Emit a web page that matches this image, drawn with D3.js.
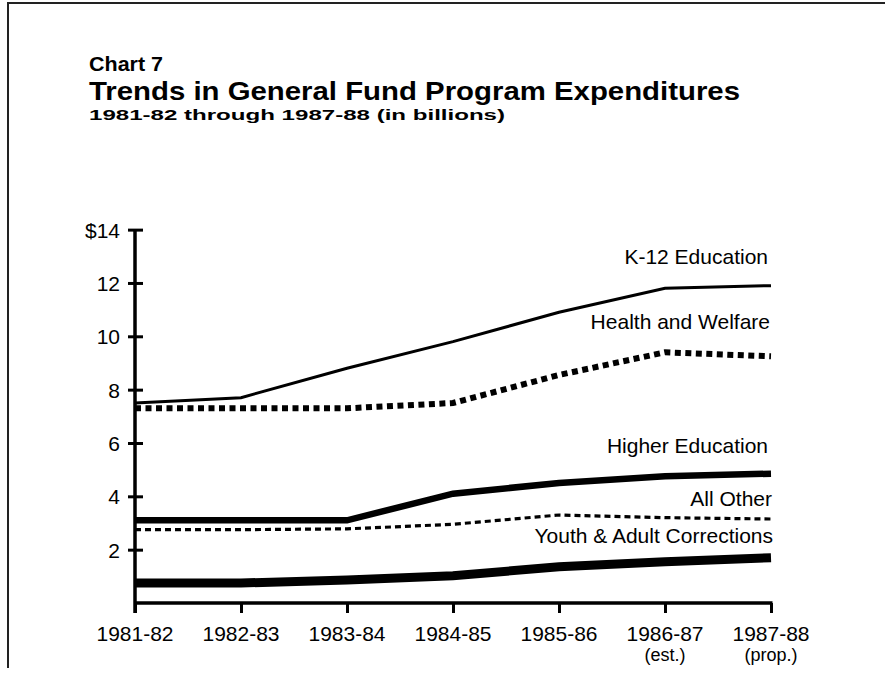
<!DOCTYPE html>
<meta charset="utf-8">
<style>
    body { margin: 0; background: white; }
    svg { background: white; }
    text { font-family: "Liberation Sans", Arial, Helvetica, sans-serif; fill: #000; }
    .series { fill: none; stroke: #000; }
    .axis path, .axis line { stroke: #000; }
</style>
<svg width="885" height="693"></svg>
<script src="https://d3js.org/d3.v7.min.js"></script>
<script>
    // values (billions)
    const years = ["1981-82", "1982-83", "1983-84", "1984-85", "1985-86", "1986-87", "1987-88"];
    const yearNotes = ["", "", "", "", "", "(est.)", "(prop.)"];
    const yTicks = [2, 4, 6, 8, 10, 12, 14];

    const k12 = [7.5, 7.7, 8.8, 9.8, 10.9, 11.8, 11.9];
    const healthWelfare = [7.3, 7.3, 7.3, 7.5, 8.55, 9.4, 9.25];
    const higherEd = [3.1, 3.1, 3.1, 4.1, 4.5, 4.75, 4.85];
    const allOther = [2.75, 2.75, 2.78, 2.95, 3.3, 3.2, 3.15];
    const corrections = [0.75, 0.75, 0.86, 1.02, 1.36, 1.55, 1.7];

    const seriesNames = ["K-12 Education", "Health and Welfare", "Higher Education", "All Other", "Youth & Adult Corrections"];
    const seriesValues = [k12, healthWelfare, higherEd, allOther, corrections];

    // line look for each series, same order as seriesNames
    const styles = [
        { width: 3, dash: null, labelDy: -22, labelDx: -3 },
        { width: 6, dash: "6,4.5", labelDy: -27, labelDx: -1 },
        { width: 6.5, dash: null, labelDy: -21, labelDx: -3 },
        { width: 3.2, dash: "6,4", labelDy: -13, labelDx: 1 },
        { width: 9, dash: null, labelDy: -15, labelDx: 2 }
    ];

    var svg = d3.select("svg");

    // scan frame
    svg.append("path")
        .attr("d", "M8,668V3H885")
        .attr("fill", "none")
        .attr("stroke", "#222")
        .attr("stroke-width", 2);

    // titles
    svg.append("text").attr("x", 89).attr("y", 71)
        .style("font-size", "21px").style("font-weight", "bold")
        .attr("textLength", 74).attr("lengthAdjust", "spacingAndGlyphs")
        .text("Chart 7");
    svg.append("text").attr("x", 89).attr("y", 100)
        .style("font-size", "26px").style("font-weight", "bold")
        .attr("textLength", 651).attr("lengthAdjust", "spacingAndGlyphs")
        .text("Trends in General Fund Program Expenditures");
    svg.append("text").attr("x", 89).attr("y", 119.5)
        .style("font-size", "15px").style("font-weight", "bold")
        .attr("textLength", 416).attr("lengthAdjust", "spacingAndGlyphs")
        .text("1981-82 through 1987-88 (in billions)");

    var x = d3.scalePoint().domain(years).range([135, 771]);
    var y = d3.scaleLinear().domain([0, 14]).range([603, 603 - 14 * 26.67]);

    // y axis
    var yAxis = svg.append("g").attr("class", "axis")
        .attr("transform", "translate(135,0)")
        .call(d3.axisLeft(y).tickValues(yTicks).tickSizeOuter(0).tickSizeInner(7).tickPadding(8)
            .tickFormat(function (d) { return d === 14 ? "$14" : d; }));
    yAxis.select(".domain").remove();
    yAxis.selectAll(".tick line").attr("x2", 8).attr("x1", -7).attr("stroke-width", 3);
    yAxis.selectAll(".tick text").style("font-size", "21px").style("font-family", "Liberation Sans, Arial, sans-serif")
        .attr("dy", "0.36em");
    svg.append("line")
        .attr("x1", 135).attr("x2", 135)
        .attr("y1", y(14)).attr("y2", 613)
        .attr("stroke", "#000").attr("stroke-width", 3.5);

    // x axis
    var xAxis = svg.append("g").attr("class", "axis")
        .attr("transform", "translate(0," + y(0) + ")")
        .call(d3.axisBottom(x).tickSizeOuter(0).tickSizeInner(10).tickPadding(12));
    xAxis.select(".domain").remove();
    xAxis.selectAll(".tick line").attr("stroke-width", 3);
    xAxis.selectAll(".tick text").remove();
    svg.append("line")
        .attr("x1", x(years[0])).attr("x2", x(years[years.length - 1]) + 1.5)
        .attr("y1", y(0)).attr("y2", y(0))
        .attr("stroke", "#000").attr("stroke-width", 3.5);

    var xLabels = svg.append("g").selectAll("text")
        .data(years)
        .enter().append("text")
        .attr("x", function (d) { return x(d); })
        .attr("y", 641)
        .attr("text-anchor", "middle")
        .style("font-size", "21px");
    xLabels.append("tspan").text(function (d) { return d; });
    xLabels.append("tspan")
        .attr("x", function (d) { return x(d); })
        .attr("dy", 20)
        .style("font-size", "18px")
        .text(function (d, i) { return yearNotes[i]; });

    // series lines
    var line = d3.line()
        .x(function (d, i) { return x(years[i]); })
        .y(function (d) { return y(d); });

    svg.append("g").selectAll("path")
        .data(seriesValues)
        .enter().append("path")
        .attr("class", "series")
        .attr("d", line)
        .attr("stroke-width", function (d, i) { return styles[i].width; })
        .attr("stroke-dasharray", function (d, i) { return styles[i].dash; });

    // series labels, right aligned over the last point
    svg.append("g").selectAll("text")
        .data(seriesNames)
        .enter().append("text")
        .attr("x", function (d, i) { return x(years[years.length - 1]) + styles[i].labelDx; })
        .attr("y", function (d, i) { return y(seriesValues[i][years.length - 1]) + styles[i].labelDy; })
        .attr("text-anchor", "end")
        .style("font-size", "21px")
        .text(function (d) { return d; });
</script>
